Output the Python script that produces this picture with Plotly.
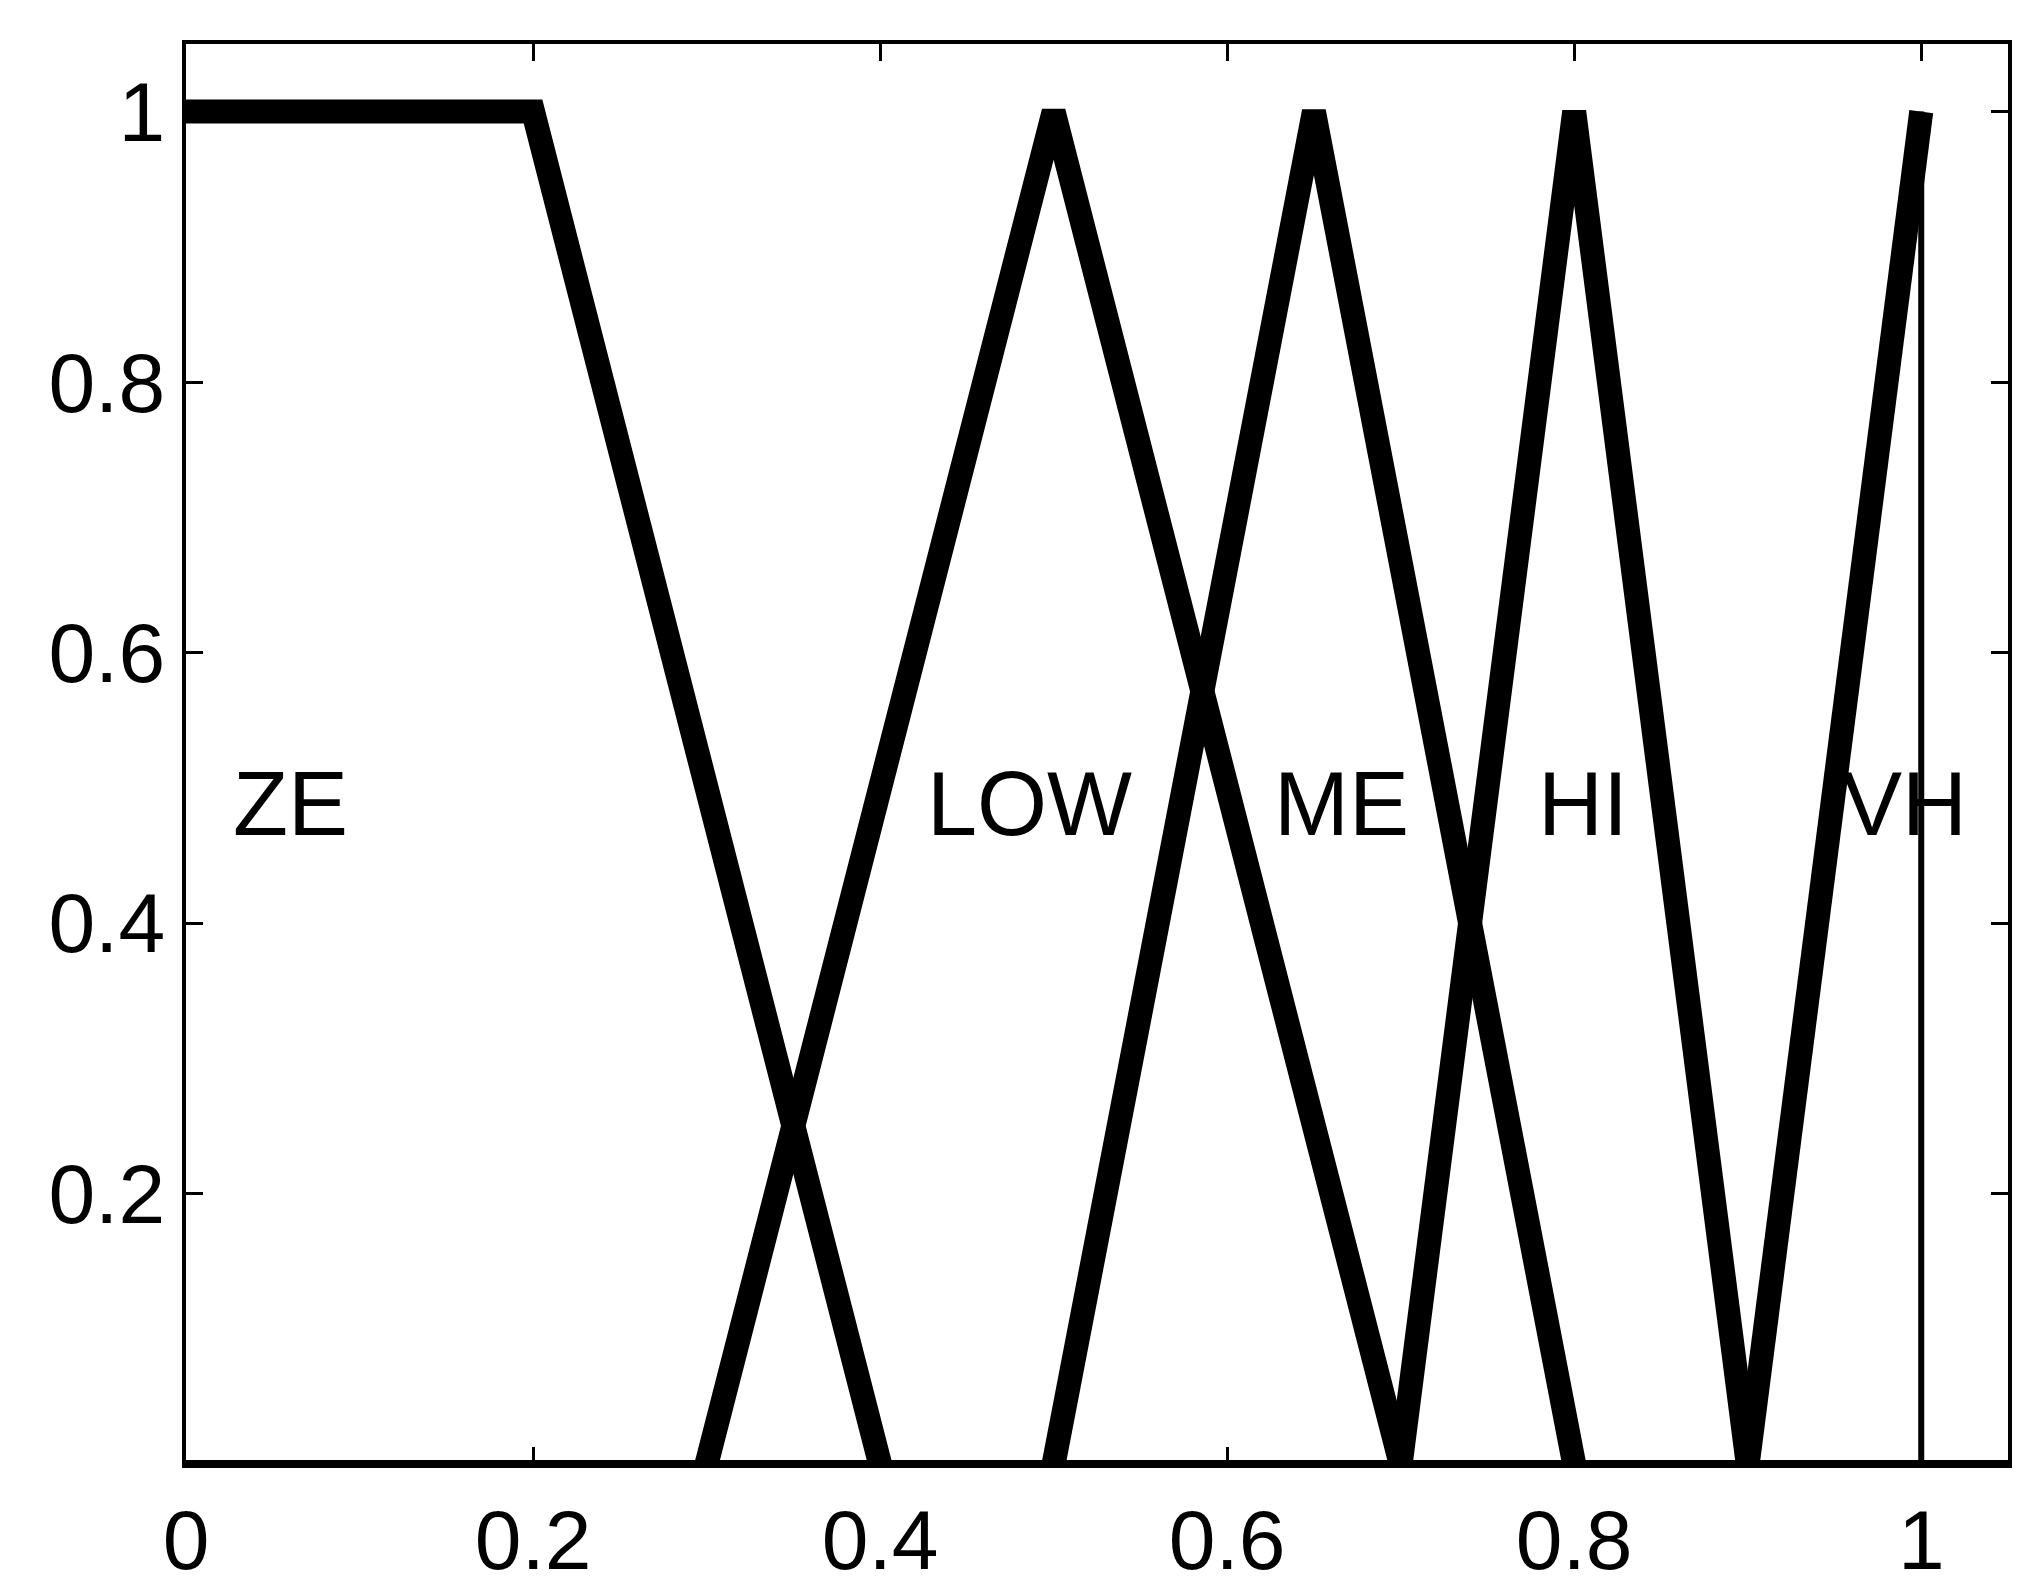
import plotly.graph_objects as go

# membership functions (x breakpoints, membership values)
ze_x = [0, 0.2, 0.4]
ze_y = [1, 1, 0]
low_x = [0.3, 0.5, 0.7]
low_y = [0, 1, 0]
me_x = [0.5, 0.65, 0.8]
me_y = [0, 1, 0]
hi_x = [0.7, 0.8, 0.9]
hi_y = [0, 1, 0]
vh_x = [0.9, 1.0]
vh_y = [0, 1]
edge_x = [1.0, 1.0]
edge_y = [1, 0]

labels = ["ZE", "LOW", "ME", "HI", "VH"]
label_x = [0.026, 0.426, 0.626, 0.778, 0.953]
label_y = [0.488, 0.488, 0.488, 0.488, 0.488]

x_ticks = [0, 0.2, 0.4, 0.6, 0.8, 1]
x_ticktext = ["0", "0.2", "0.4", "0.6", "0.8", "1"]
y_ticks = [0.2, 0.4, 0.6, 0.8, 1]
y_ticktext = ["0.2", "0.4", "0.6", "0.8", "1"]

fig = go.Figure()
for xs, ys in [(ze_x, ze_y), (low_x, low_y), (me_x, me_y), (hi_x, hi_y), (vh_x, vh_y)]:
    fig.add_trace(go.Scatter(x=xs, y=ys, mode="lines",
                             line=dict(color="black", width=24),
                             showlegend=False))
fig.add_trace(go.Scatter(x=edge_x, y=edge_y, mode="lines",
                         line=dict(color="black", width=6), showlegend=False))

for t, xx, yy in zip(labels, label_x, label_y):
    fig.add_annotation(x=xx, y=yy, text=t, showarrow=False, xanchor="left",
                       yanchor="middle", font=dict(size=90, color="black",
                                                   family="Liberation Sans"))

# heavier bottom axis line
fig.add_shape(type="line", xref="paper", yref="y", x0=0, x1=1, y0=0, y1=0,
              line=dict(color="black", width=8), layer="above")

fig.update_layout(
    width=2033, height=1591,
    margin=dict(l=178, r=33, t=36, b=123),
    plot_bgcolor="white", paper_bgcolor="white",
    font=dict(family="Liberation Sans", size=84, color="black"),
)
fig.update_xaxes(range=[0, 1.05], tickvals=x_ticks, ticktext=x_ticktext,
                 ticks="inside", ticklen=17, tickwidth=3, tickcolor="black",
                 showline=True, linecolor="black", linewidth=4, mirror="ticks",
                 showgrid=False, zeroline=False)
fig.update_yaxes(range=[0, 1.05], tickvals=y_ticks, ticktext=y_ticktext,
                 ticks="inside", ticklen=17, tickwidth=3, tickcolor="black",
                 showline=True, linecolor="black", linewidth=4, mirror="ticks",
                 showgrid=False, zeroline=False)

fig.write_html("out.html")
